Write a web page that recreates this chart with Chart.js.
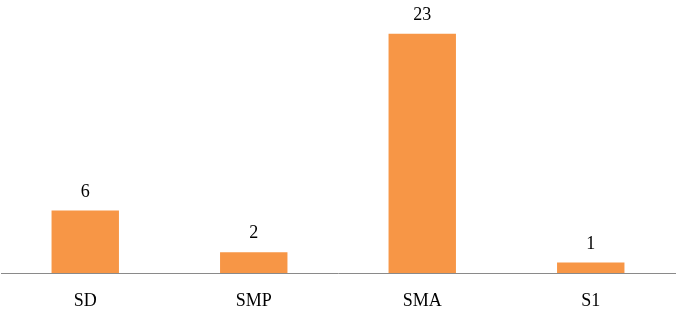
<!DOCTYPE html>
<html><head><meta charset="utf-8">
<script src="https://cdn.jsdelivr.net/npm/chart.js@4/dist/chart.umd.min.js"></script>
<style>html,body{margin:0;padding:0;background:#fff}#wrap{width:677px;height:320px}</style>
</head><body><div id="wrap"><canvas id="c" width="677" height="320"></canvas></div>
<script>
const categories = ["SD", "SMP", "SMA", "S1"];
const values = [6, 2, 23, 1];

const labelPlugin = {
  id: 'valLabels',
  afterDatasetsDraw(chart) {
    const ctx = chart.ctx;
    const meta = chart.getDatasetMeta(0);
    ctx.save();
    ctx.font = '18px "Liberation Serif", "Times New Roman", serif';
    ctx.fillStyle = '#000';
    ctx.textAlign = 'center';
    ctx.textBaseline = 'alphabetic';
    meta.data.forEach((bar, i) => {
      ctx.fillText(String(values[i]), bar.x, bar.y - 14);
    });
    ctx.restore();
  }
};

new Chart(document.getElementById('c'), {
  type: 'bar',
  data: {
    labels: categories,
    datasets: [{
      data: values,
      backgroundColor: '#F79646',
      borderWidth: 0,
      categoryPercentage: 1,
      barPercentage: 0.4
    }]
  },
  options: {
    responsive: false,
    animation: false,
    layout: { padding: { left: 1, right: 2, top: 13, bottom: 0 } },
    plugins: { legend: { display: false }, tooltip: { enabled: false } },
    scales: {
      x: {
        grid: { display: false, drawTicks: false },
        border: { display: true, color: '#8a8a8a', width: 1 },
        ticks: {
          color: '#000',
          padding: 17,
          font: { family: '"Liberation Serif", "Times New Roman", serif', size: 18 }
        },
        afterFit(scale) { scale.height = 47; }
      },
      y: {
        display: false,
        min: 0,
        max: 25
      }
    }
  },
  plugins: [labelPlugin]
});
</script></body></html>
